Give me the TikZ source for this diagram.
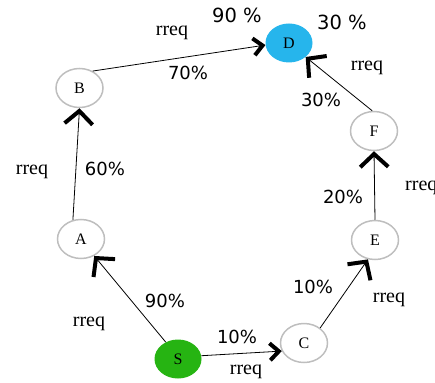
\documentclass[tikz,border=0pt]{standalone}
\usepackage{fontspec}
\setmainfont{Liberation Serif}
\newfontfamily\pctfont{DejaVu Sans}
\usetikzlibrary{shapes.geometric,arrows.meta}
\definecolor{dcyan}{RGB}{38,181,236}
\definecolor{sgreen}{RGB}{38,180,18}
\definecolor{ringgrey}{RGB}{190,190,190}
\tikzset{
  vtx/.style={ellipse,inner sep=0pt,minimum width=47pt,minimum height=39pt,
    font=\fontsize{16}{16}\selectfont},
  plain/.style={vtx,draw=ringgrey,line width=1.5pt,fill=white},
  edge/.style={draw=black,line width=0.8pt},
  bigtip/.style={edge,-{Straight Barb[length=13pt,width=28pt,line width=4pt]}},
  smalltip/.style={edge,-{Straight Barb[length=9pt,width=17pt,line width=4pt]}},
  rq/.style={anchor=base,inner sep=0pt,font=\fontsize{20}{20}\selectfont},
  pc/.style={anchor=base,inner sep=0pt,font=\pctfont\fontsize{18}{18}\selectfont},
  pcbig/.style={anchor=base,inner sep=0pt,font=\pctfont\fontsize{19.5}{19.5}\selectfont}
}
\begin{document}
\begin{tikzpicture}[x=1pt,y=-1pt]
\useasboundingbox (0,0) rectangle (435,382);
% nodes
\node[vtx,fill=sgreen] (S) at (178,359) {S};
\node[plain] (A) at (81,239) {A};
\node[plain] (B) at (79.5,88) {B};
\node[vtx,fill=dcyan] (D) at (289,43) {D};
\node[plain] (C) at (304,343) {C};
\node[plain] (E) at (375,240) {E};
\node[plain] (F) at (374,131) {F};
% edges
\draw[bigtip] (S.126) -- (A.-52);
\draw[smalltip] (S.8) -- (C.200);
\draw[bigtip] (A.113) -- (B.south);
\draw[smalltip] (B.52) -- (D.185);
\draw[bigtip] (C.43) -- (E.250);
\draw[bigtip] (E.north) -- (F.south);
\draw[bigtip] (F.95) -- (D.-40);
% labels
\node[pcbig] (l1) at (237,23) {90 \%};
\node[pcbig] (l2) at (342,30) {30 \%};
\node[rq] (l3) at (172,36) {rreq};
\node[pc] (l4) at (188,80) {70\%};
\node[rq] (l5) at (367,71) {rreq};
\node[pc] (l6) at (321,107) {30\%};
\node[rq] (l7) at (32,174) {rreq};
\node[pc] (l8) at (105,175) {60\%};
\node[pc] (l9) at (343,203) {20\%};
\node[rq,anchor=base west] (l10) at (405,190) {rreq};
\node[pc] (l11) at (313,293) {10\%};
\node[rq] (l12) at (389,302) {rreq};
\node[pc] (l13) at (165,307) {90\%};
\node[rq] (l14) at (89,326) {rreq};
\node[pc] (l15) at (237,343) {10\%};
\node[rq] (l16) at (246,374) {rreq};
\end{tikzpicture}
\end{document}
